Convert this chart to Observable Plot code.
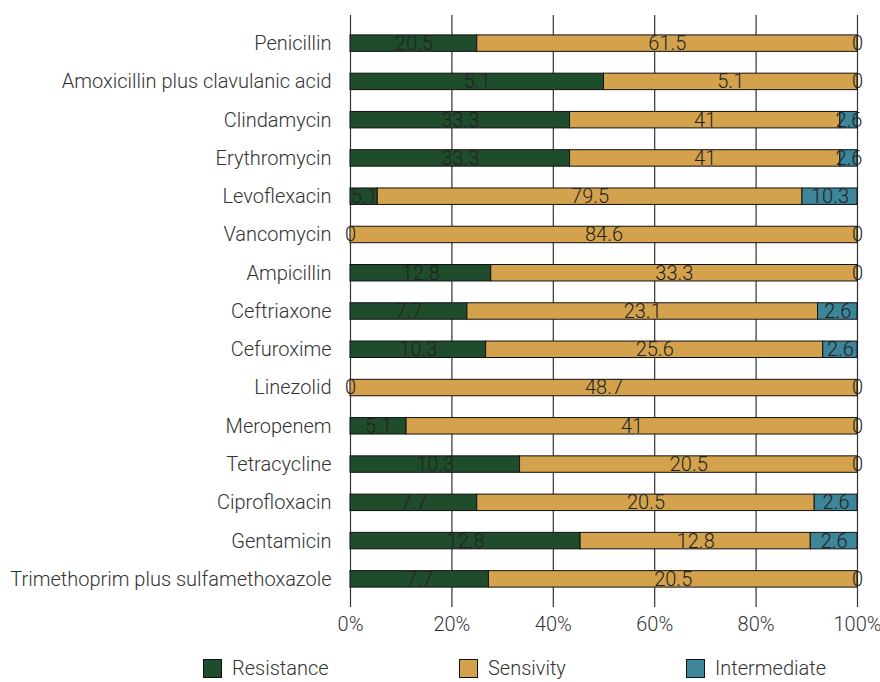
<!DOCTYPE html>
<html><head><meta charset="utf-8">
<script src="https://cdn.jsdelivr.net/npm/d3@7"></script>
<script src="https://cdn.jsdelivr.net/npm/@observablehq/plot@0.6"></script>
<style>
body{margin:0;background:#fff;font-family:Roboto,sans-serif;font-weight:300;color:#333}
#legend{position:relative;height:34px;font-size:20px;}
.item{position:absolute;top:9px;display:flex;align-items:center;line-height:22px;}
.sw{width:17px;height:17px;border:1px solid #111;margin-right:10px;}
</style></head><body>
<div id="chart"></div>
<div id="legend"></div>
<script>
const drugs = ["Penicillin","Amoxicillin plus clavulanic acid","Clindamycin","Erythromycin","Levoflexacin","Vancomycin","Ampicillin","Ceftriaxone","Cefuroxime","Linezolid","Meropenem","Tetracycline","Ciprofloxacin","Gentamicin","Trimethoprim plus sulfamethoxazole"];
const resistance = [20.5, 5.1, 33.3, 33.3, 5.1, 0, 12.8, 7.7, 10.3, 0, 5.1, 10.3, 7.7, 12.8, 7.7];
const sensivity = [61.5, 5.1, 41, 41, 79.5, 84.6, 33.3, 23.1, 25.6, 48.7, 41, 20.5, 20.5, 12.8, 20.5];
const intermediate = [0, 0, 2.6, 2.6, 10.3, 0, 0, 2.6, 2.6, 0, 0, 0, 2.6, 2.6, 0];
const seriesNames = ["Resistance","Sensivity","Intermediate"];
const seriesColors = ["#1f4d2c","#d4a24c","#3d8599"];
const xTicks = [0, 0.2, 0.4, 0.6, 0.8, 1];

const seriesValues = [resistance, sensivity, intermediate];
const data = [];
seriesNames.forEach((s, si) => drugs.forEach((d, i) => data.push({drug: d, type: s, value: seriesValues[si][i]})));

const chart = Plot.plot({
  width: 880, height: 648,
  marginLeft: 350, marginRight: 23, marginTop: 15, marginBottom: 41,
  style: {fontFamily: "Roboto", fontSize: "20px", fontWeight: 300, color: "#333", background: "#fff", overflow: "visible"},
  x: {domain: [0, 1], label: null},
  y: {domain: drugs, paddingInner: 0.57, paddingOuter: 0.52, round: false, label: null},
  color: {domain: seriesNames, range: seriesColors},
  marks: [
    Plot.gridX({ticks: xTicks, stroke: "#333", strokeOpacity: 1, strokeWidth: 1.2}),
    Plot.barX(data, Plot.stackX({x: "value", y: "drug", fill: "type", offset: "normalize", stroke: "#111", strokeWidth: 1})),
    Plot.text(data, Plot.stackX({x: "value", y: "drug", z: "type", text: d => String(d.value), offset: "normalize", fill: "#222", fontSize: 20, fontWeight: 300})),
    Plot.axisX({ticks: xTicks, tickFormat: d3.format(".0%"), tickSize: 0, tickPadding: 9, fontSize: 20}),
    Plot.axisY({tickSize: 0, tickPadding: 19, fontSize: 20})
  ]
});
document.getElementById("chart").appendChild(chart);

const legend = document.getElementById("legend");
const lefts = [203, 459, 686];
seriesNames.forEach((s, i) => {
  const it = document.createElement("div");
  it.className = "item";
  it.style.left = lefts[i] + "px";
  it.innerHTML = `<span class="sw" style="background:${seriesColors[i]}"></span><span>${s}</span>`;
  legend.appendChild(it);
});
</script></body></html>
